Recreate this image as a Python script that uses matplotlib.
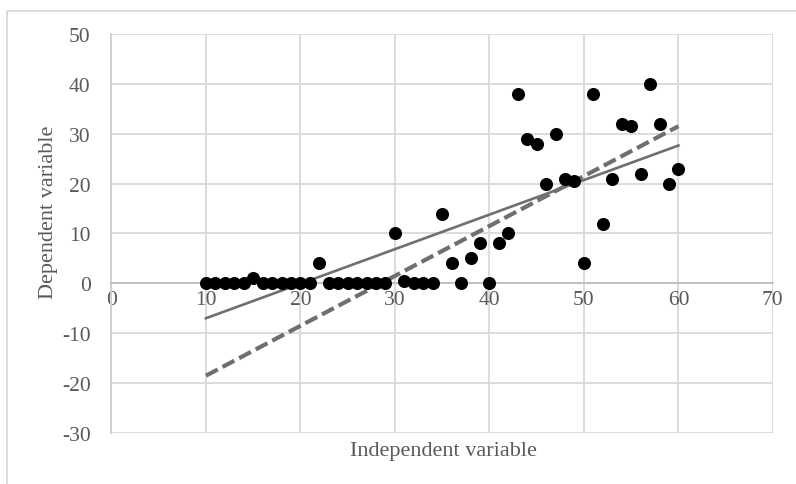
import numpy as np
import matplotlib
matplotlib.use('Agg')
import matplotlib.pyplot as plt
from matplotlib.lines import Line2D

# Data
x_vals = list(range(10, 61))
y_vals = [0, 0, 0, 0, 0, 1, 0, 0, 0, 0,
          0, 0, 4, 0, 0, 0, 0, 0, 0, 0,
          10, 0.5, 0, 0, 0, 14, 4, 0, 5, 8,
          0, 8, 10, 38, 29, 28, 20, 30, 21, 20.5,
          4, 38, 12, 21, 32, 31.5, 22, 40, 32, 20,
          23]
# second model line (dashed): intercept, slope
dashed_coef = (-28.5, 1.0)

x_ticks = [0, 10, 20, 30, 40, 50, 60, 70]
y_ticks = [-30, -20, -10, 0, 10, 20, 30, 40, 50]

plt.rcParams['font.family'] = ['Liberation Serif', 'DejaVu Serif']
plt.rcParams['axes.unicode_minus'] = False

fig = plt.figure(figsize=(7.96, 4.85), dpi=100)
ax = fig.add_axes([0.140, 0.105, 0.831, 0.823])

x = np.array(x_vals)
y = np.array(y_vals)

# least squares fit (solid line)
slope, intercept = np.polyfit(x, y, 1)
xl = np.array([x.min(), x.max()])
ax.plot(xl, intercept + slope * xl, color='#6f6f6f', lw=1.9, zorder=3)
ax.plot(xl, dashed_coef[0] + dashed_coef[1] * xl, color='#6f6f6f', lw=3.0,
        dashes=(3.2, 1.3), zorder=3)

ax.plot(x, y, 'o', color='black', markersize=8.4, zorder=4)

ax.set_xlim(0, 70)
ax.set_ylim(-30, 50)
ax.set_xticks(x_ticks)
ax.set_yticks(y_ticks)
ax.grid(True, color='#d9d9d9', lw=1.3)
ax.set_axisbelow(True)

for s in ['top', 'right']:
    ax.spines[s].set_visible(False)
ax.spines['left'].set_color('#cfcfcf')
ax.spines['left'].set_linewidth(1.3)
ax.spines['bottom'].set_position(('data', 0))
ax.spines['bottom'].set_color('#bfbfbf')
ax.spines['bottom'].set_linewidth(1.3)
ax.tick_params(length=0, labelsize=15.5, colors='#595959')
ax.tick_params(axis='x', pad=5)
ax.tick_params(axis='y', pad=15)

fig.text(443 / 796, 1 - 452 / 485, 'Independent variable', ha='center', va='center',
         fontsize=16, color='#595959')
fig.text(49 / 796, 1 - 212 / 485, 'Dependent variable', ha='center', va='center',
         rotation=90, fontsize=16, color='#595959')

# outer chart frame (cut off at right and bottom)
fig.add_artist(Line2D([7 / 796, 7 / 796, 1], [0, 1 - 12 / 485, 1 - 12 / 485],
                      transform=fig.transFigure, color='#d9d9d9', lw=1.3))

fig.savefig('out.png', dpi=100)
